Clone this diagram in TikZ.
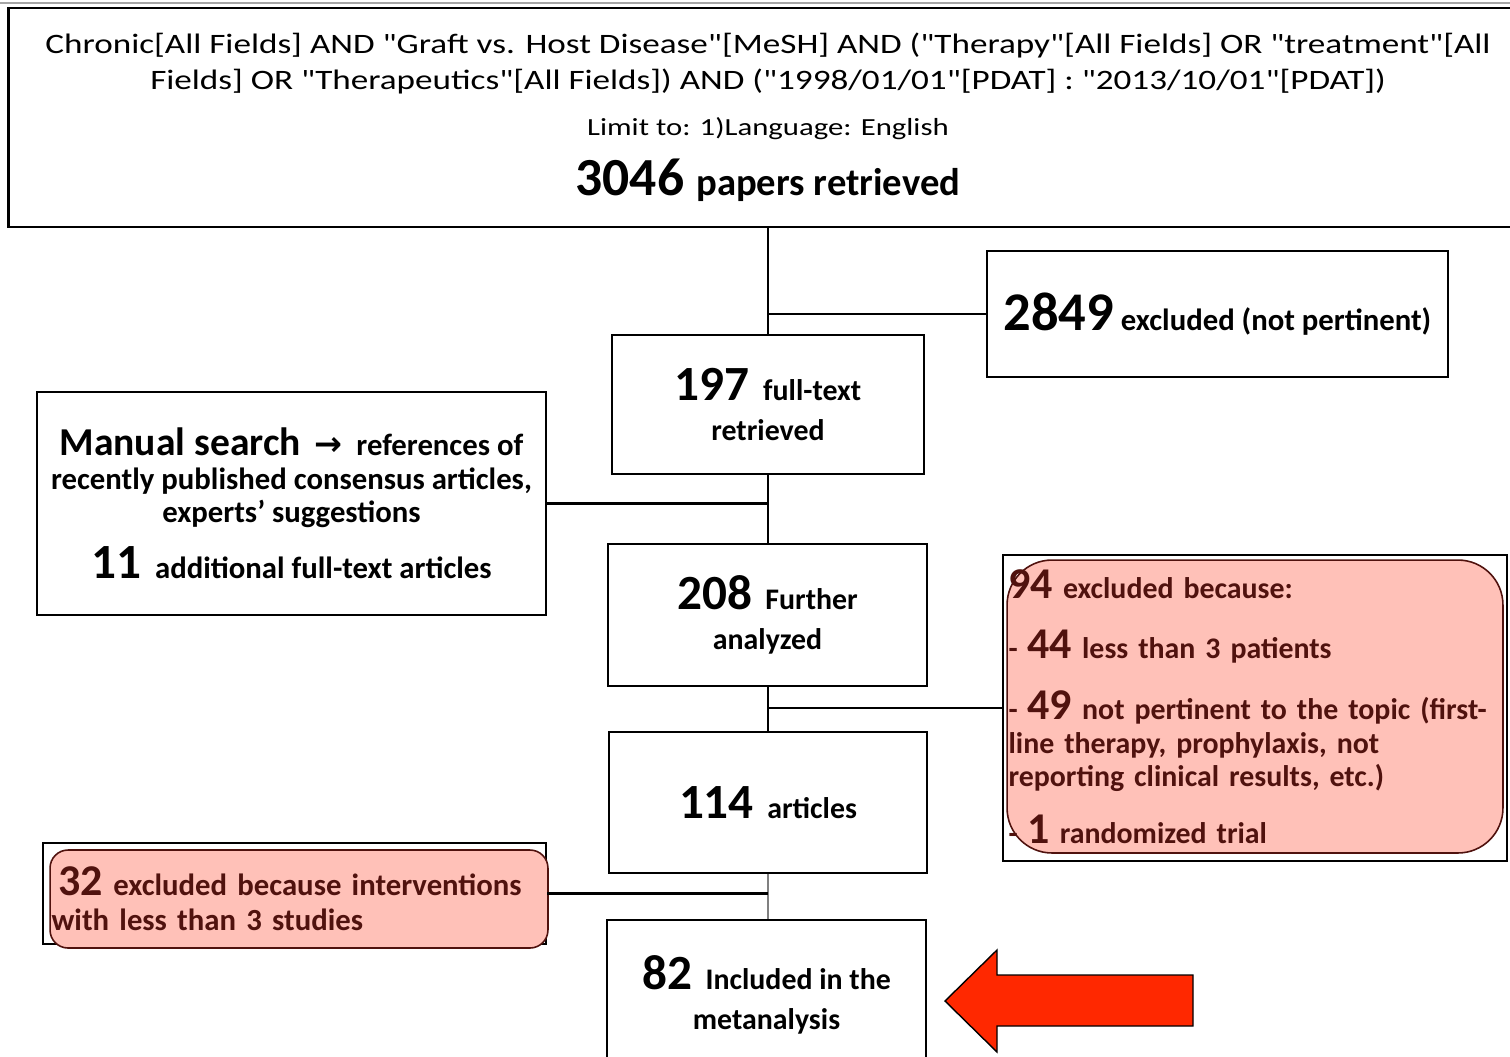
\documentclass[tikz,border=0pt]{standalone}
\usepackage{fontspec}
\setmainfont{Carlito}[Ligatures=TeXOff]
\newfontfamily\queryfont{Carlito}[Ligatures=TeXOff, FakeStretch=1.25]
\newfontfamily\arrowfont{DejaVu Sans}
\usetikzlibrary{shapes,calc}
\definecolor{pinkfill}{RGB}{255,193,184}
\definecolor{darkbrown}{RGB}{80,18,14}
\definecolor{arrowred}{RGB}{255,40,0}
\tikzstyle{line} = [draw, line width=1.6pt]
\tikzstyle{block} = [draw, line width=1.6pt, rectangle, align=center, inner sep=0pt]
\tikzstyle{frame} = [draw, line width=1.6pt, rectangle, inner sep=0pt]
\tikzstyle{reason} = [draw=darkbrown, line width=0.9pt, fill=pinkfill, text=darkbrown, align=left, inner sep=0pt]
\newcommand{\bignum}[1]{{\fontsize{28}{30}\selectfont\bfseries #1}}
\newcommand{\rsnum}[1]{{\fontsize{25}{28}\selectfont\bfseries #1}}

\begin{document}
\begin{tikzpicture}[x=0.02cm, y=-0.02cm, font=\fontsize{17}{21}\selectfont\bfseries]
    \useasboundingbox (0,0) rectangle (1510,1056);
    \draw[gray!70, line width=1pt] (0,3) -- (1510,3);
    % search query and main chain
    \node[block, minimum width=30.4cm, minimum height=4.38cm, font=\queryfont\fontsize{16}{20.4}\selectfont] (search) at (768,117.5) {%
        Chronic[All Fields] AND "Graft vs. Host Disease"[MeSH] AND ("Therapy"[All Fields] OR "treatment"[All\\
        Fields] OR "Therapeutics"[All Fields]) AND ("1998/01/01"[PDAT] : "2013/10/01"[PDAT])\\[6pt]
        \fontsize{14}{16}\selectfont Limit to: 1)Language: English\\[10pt]
        \normalfont\bfseries\fontsize{30.5}{33}\selectfont 3046 {\fontsize{22}{24}\selectfont papers retrieved}};
    \node[block, minimum width=9.22cm, minimum height=2.52cm] (pertinent) at (1217.5,314) {%
        {\fontsize{31}{33}\selectfont 2849} {\fontsize{17.5}{20}\selectfont excluded (not pertinent)}};
    \node[block, minimum width=6.24cm, minimum height=2.78cm] (fulltext) at (768,404.5) {%
        \bignum{197}~ full-text\\[2pt] retrieved};
    \node[block, minimum width=10.18cm, minimum height=4.46cm, font=\fontsize{17.5}{19}\selectfont\bfseries] (manual) at (291.5,503.5) {%
        {\fontsize{22.5}{24}\selectfont Manual search}~ {\arrowfont\fontsize{19}{20}\selectfont →}~ references of\\
        recently published consensus articles,\\ experts’ suggestions\\[10pt]
        \bignum{11}~ additional full-text articles};
    \node[block, minimum width=6.38cm, minimum height=2.84cm] (further) at (767.5,615) {%
        \bignum{208}~ Further\\[2pt] analyzed};
    \node[block, minimum width=6.36cm, minimum height=2.82cm] (articles) at (768,802.5) {%
        \bignum{114}~ articles};
    \node[block, minimum width=6.38cm, minimum height=3.0cm] (included) at (766.5,995) {%
        \bignum{82}~ Included in the\\[2pt] metanalysis};
    % exclusion reasons
    \node[frame, minimum width=10.08cm, minimum height=6.12cm] (reasonsbox) at (1255,708) {};
    \node[reason, rounded corners=0.9cm, minimum width=9.92cm, minimum height=5.86cm, text width=9.86cm,
          font=\fontsize{17}{19}\selectfont\bfseries] (reasons) at (1255,706.5) {%
        \rsnum{94} excluded because:\\[15pt]
        - \rsnum{44} less than 3 patients\\[15pt]
        - \rsnum{49} not pertinent to  the topic (first-\\
        line therapy, prophylaxis, not\\
        reporting clinical results, etc.)\\[12pt]
        - \rsnum{1} randomized trial};
    \node[frame, minimum width=10.06cm, minimum height=2.02cm] (studiesbox) at (294.5,893.5) {};
    \node[reason, rounded corners=0.36cm, minimum width=9.96cm, minimum height=1.96cm, text width=9.9cm,
          font=\fontsize{17.5}{20}\selectfont\bfseries] (studies) at (299,899) {%
        \hspace*{4pt}\rsnum{32} excluded because interventions\\
        with less than 3 studies\\[4pt]};
    % connectors
    \path[line] (fulltext.north |- search.south) -- (fulltext.north);
    \path[line] (pertinent.west) -- (pertinent.west -| fulltext.north);
    \path[line] (fulltext.south) -- (fulltext.south |- further.north);
    \path[line] (manual.east) -- (manual.east -| fulltext.south);
    \path[line] (fulltext.south |- further.south) -- (fulltext.south |- articles.north);
    \path[line] (reasonsbox.west) -- (reasonsbox.west -| fulltext.south);
    \path[line, draw=gray] (fulltext.south |- articles.south) -- (fulltext.south |- included.north);
    \path[line] (studiesbox.east) -- (studiesbox.east -| fulltext.south);
    % pointer
    \draw[fill=arrowred, line width=0.8pt] (945,1001) -- (997,950) -- (997,975) -- (1193,975)
        -- (1193,1026) -- (997,1026) -- (997,1052) -- cycle;
\end{tikzpicture}
\end{document}
